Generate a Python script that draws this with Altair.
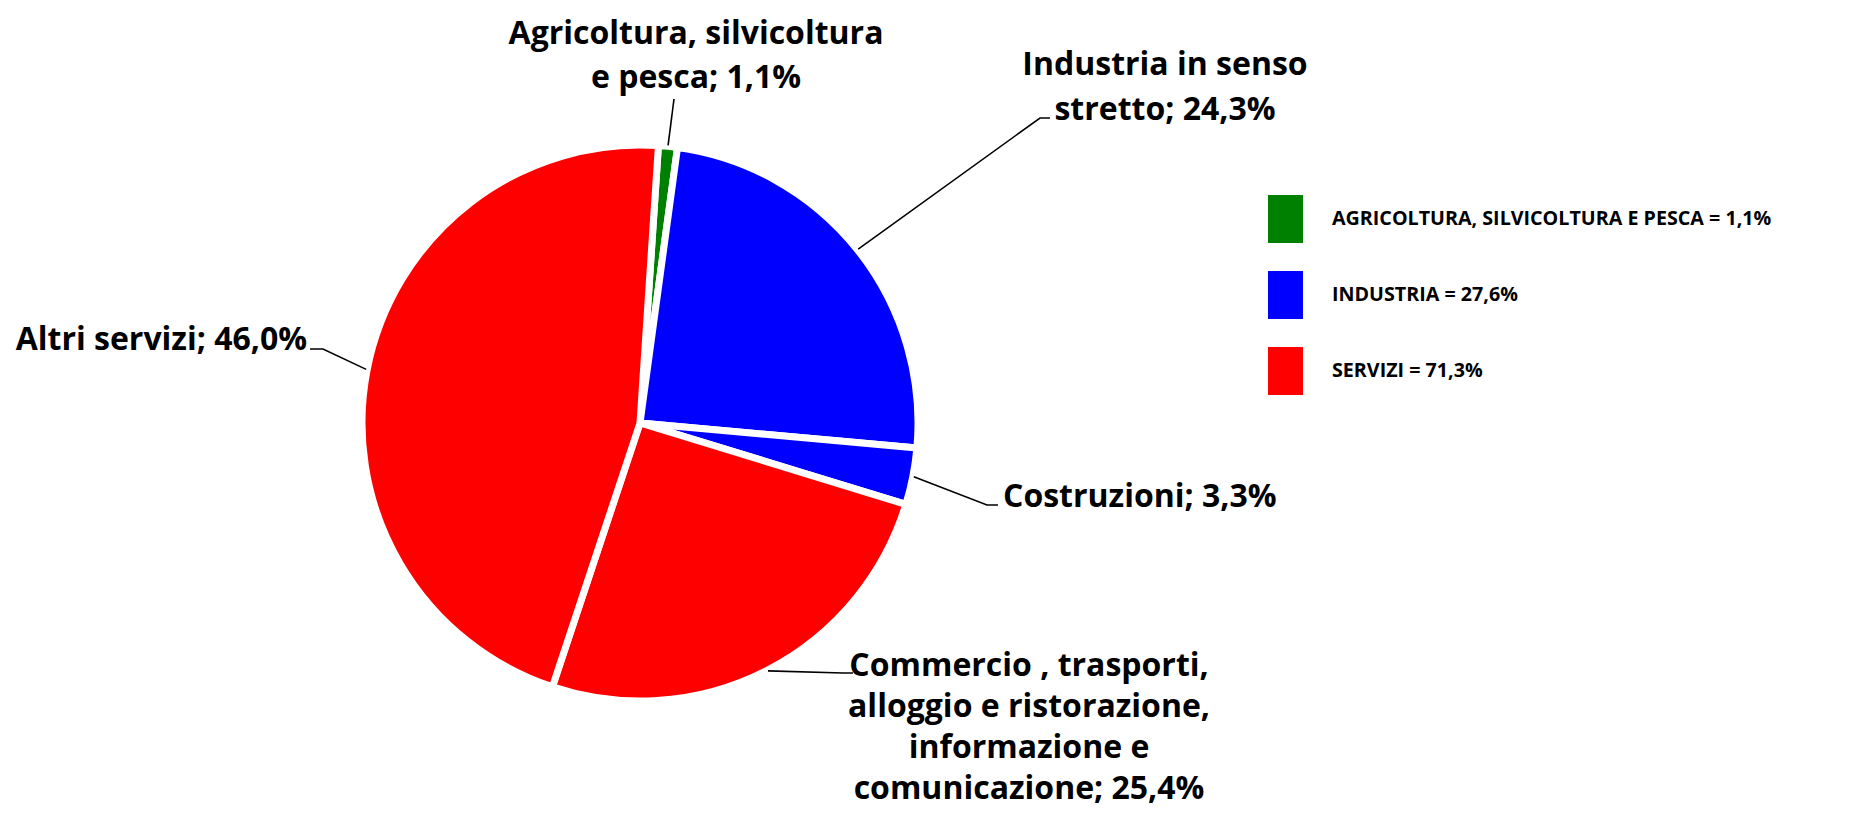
import math
import numpy as np
import pandas as pd
import altair as alt

# ---------------- data ----------------
sectors = [
    "Agricoltura, silvicoltura e pesca",
    "Industria in senso stretto",
    "Costruzioni",
    "Commercio, trasporti, alloggio e ristorazione, informazione e comunicazione",
    "Altri servizi",
]
values = [1.1, 24.3, 3.3, 25.4, 46.0]
groups = [
    "AGRICOLTURA, SILVICOLTURA E PESCA = 1,1%",
    "INDUSTRIA = 27,6%",
    "INDUSTRIA = 27,6%",
    "SERVIZI = 71,3%",
    "SERVIZI = 71,3%",
]
group_domain = [
    "AGRICOLTURA, SILVICOLTURA E PESCA = 1,1%",
    "INDUSTRIA = 27,6%",
    "SERVIZI = 71,3%",
]
label_lines = [
    ["Agricoltura, silvicoltura", "e pesca; 1,1%"],
    ["Industria in senso", "stretto; 24,3%"],
    ["Costruzioni; 3,3%"],
    ["Commercio , trasporti,", "alloggio e ristorazione,", "informazione e", "comunicazione; 25,4%"],
    ["Altri servizi; 46,0%"],
]

# ---------------- layout / style ----------------
W, H = 1838, 803
CX, CY = 632, 415          # pie centre (plot pixels)
R = 278                    # outer radius
START = math.radians(3.8)  # angle of first slice start (clockwise from 12 o'clock)
colors = ["#008000", "#0000FF", "#FF0000"]
FONT = "Open Sans"
# label anchors and leader elbow points, relative to pie centre
label_layout = [
    {"text": (56, -379), "align": "center", "lh": 44, "leader": [(34, -324)]},
    {"text": (525, -348), "align": "center", "lh": 45, "leader": [(400, -305), (410, -305)]},
    {"text": (363, 84), "align": "left", "lh": 45, "leader": [(347, 82), (358, 82)]},
    {"text": (389, 253), "align": "center", "lh": 41, "leader": [(203, 250), (213, 250)]},
    {"text": (-333, -73), "align": "right", "lh": 45, "leader": [(-317, -74), (-330, -74)]},
]

# ---------------- tables ----------------
pie_df = pd.DataFrame({
    "sector": sectors,
    "value": values,
    "group": groups,
    "order": list(range(len(sectors))),
})

total = float(sum(values))
cum = np.cumsum(values)
mid = [START + (c - v / 2.0) / total * 2 * math.pi for c, v in zip(cum, values)]

line_rows = []
text_rows = []
for i, (s, a, lay, txt) in enumerate(zip(sectors, mid, label_layout, label_lines)):
    r_in = R + 1
    line_rows.append({"sector": s, "idx": 0, "x": CX + r_in * math.sin(a), "y": CY - r_in * math.cos(a)})
    for j, (dx, dy) in enumerate(lay["leader"]):
        line_rows.append({"sector": s, "idx": j + 1, "x": CX + dx, "y": CY + dy})
    text_rows.append({"sector": s, "x": CX + lay["text"][0], "y": CY + lay["text"][1],
                      "label": txt})
line_df = pd.DataFrame(line_rows)
text_df = pd.DataFrame(text_rows)

xs = alt.Scale(domain=[0, W], nice=False, zero=False)
ys = alt.Scale(domain=[0, H], nice=False, zero=False, reverse=True)

legend = alt.Legend(
    title=None,
    orient="none",
    legendX=1253.5,
    legendY=187,
    symbolType="M-0.729,-1H0.729V1H-0.729Z",
    symbolSize=2304,
    symbolStrokeWidth=0,
    symbolOpacity=1,
    labelFont=FONT,
    labelFontSize=19.7,
    labelFontWeight="bold",
    labelColor="black",
    labelOffset=22.5,
    rowPadding=28,
    padding=0,
    labelLimit=1000,
)

pie = alt.Chart(pie_df).mark_arc(
    outerRadius=R, stroke="white", strokeWidth=7, x=CX, y=CY
).encode(
    theta=alt.Theta("value:Q", stack=True,
                    scale=alt.Scale(range=[START, START + 2 * math.pi])),
    color=alt.Color("group:N", scale=alt.Scale(domain=group_domain, range=colors), legend=legend),
    order=alt.Order("order:Q"),
)

leaders = alt.Chart(line_df).mark_line(color="black", strokeWidth=1.6).encode(
    x=alt.X("x:Q", scale=xs, axis=None),
    y=alt.Y("y:Q", scale=ys, axis=None),
    detail="sector:N",
    order="idx:Q",
)

text_layers = []
for s, lay in zip(sectors, label_layout):
    text_layers.append(
        alt.Chart(text_df).transform_filter(alt.datum.sector == s).mark_text(
            align=lay["align"], baseline="alphabetic", font=FONT, fontSize=32,
            fontWeight="bold", color="black", lineHeight=lay["lh"],
        ).encode(
            x=alt.X("x:Q", scale=xs, axis=None),
            y=alt.Y("y:Q", scale=ys, axis=None),
            text="label",
        )
    )

chart = alt.layer(pie, leaders, *text_layers).properties(
    width=W, height=H, autosize=alt.AutoSizeParams(type="none"), padding=0,
    background="white",
).configure_view(stroke=None)

chart.save("out.html", embed_options={"renderer": "svg", "actions": False})
